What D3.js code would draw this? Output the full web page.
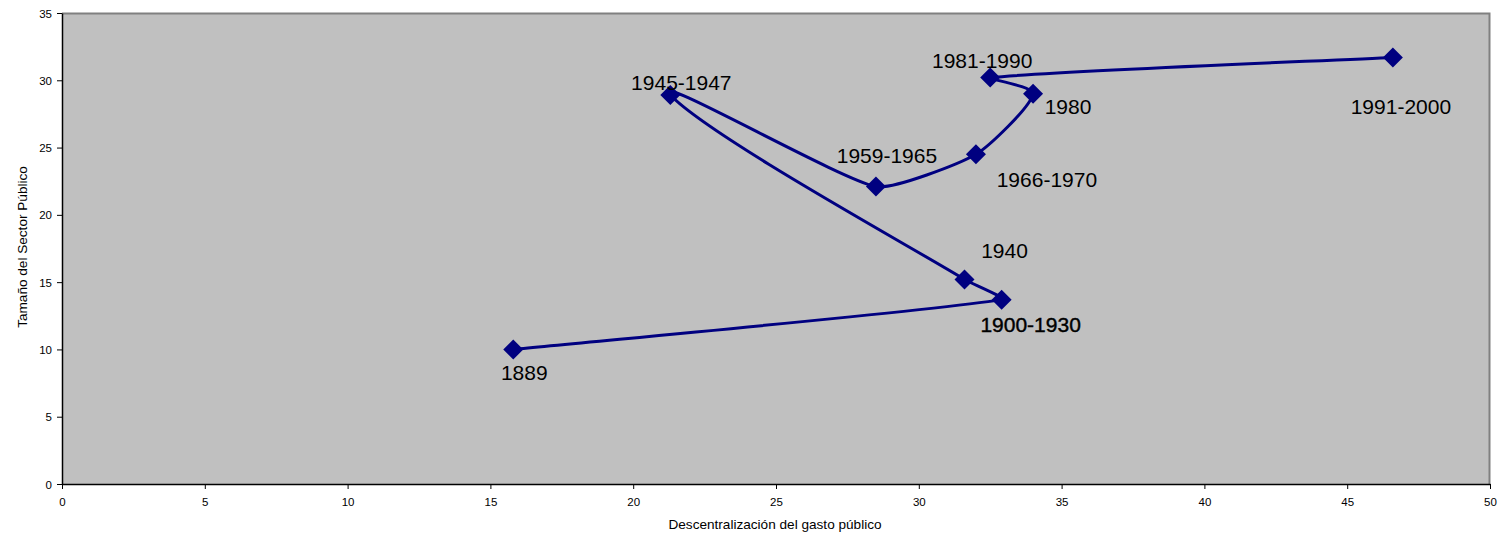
<!DOCTYPE html>
<html><head><meta charset="utf-8">
<script src="https://cdn.jsdelivr.net/npm/d3@7"></script>
<style>body{margin:0;background:#fff;} svg{display:block;font-family:Arial,"Liberation Sans",sans-serif;}</style>
</head><body>
<svg id="c" width="1501" height="539"></svg>
<script>
const periods = ["1889","1900-1930","1940","1945-1947","1959-1965","1966-1970","1980","1981-1990","1991-2000"];
const descentralizacion = [15.8, 32.9, 31.6, 21.3, 28.5, 32.0, 34.0, 32.5, 46.6];
const tamano = [10.0, 13.7, 15.2, 28.9, 22.1, 24.5, 29.0, 30.2, 31.7];
const xTicks = [0,5,10,15,20,25,30,35,40,45,50];
const yTicks = [0,5,10,15,20,25,30,35];
// label offsets (px) relative to point: [dx center, dy baseline]
const labelOffsets = [[11,31],[29,32],[40,-21],[11,-5],[11,-24],[71,33],[35,20],[-8,-10],[8,57]];

const svg = d3.select("#c");
const m = {l:62, t:13, r:1490, b:484};
const x = d3.scaleLinear().domain([0,50]).range([m.l, m.r]);
const y = d3.scaleLinear().domain([0,35]).range([m.b, m.t]);

svg.append("rect").attr("x",m.l).attr("y",m.t).attr("width",m.r-m.l).attr("height",m.b-m.t).attr("fill","#C0C0C0");
svg.append("path").attr("d",`M${m.l},${m.t+0.5}H${m.r-0.5}V${m.b}`).attr("fill","none").attr("stroke","#808080").attr("stroke-width",2);

const xAxis = svg.append("g").attr("transform",`translate(0,${m.b})`)
  .call(d3.axisBottom(x).tickValues(xTicks).tickSize(5).tickSizeOuter(0).tickFormat(d3.format("d")));
const yAxis = svg.append("g").attr("transform",`translate(${m.l},0)`)
  .call(d3.axisLeft(y).tickValues(yTicks).tickSize(5).tickSizeOuter(0).tickFormat(d3.format("d")));
[xAxis,yAxis].forEach(a=>{
  a.selectAll("path").attr("stroke","#000").attr("stroke-width",1.5);
  a.selectAll("line").attr("stroke","#000");
  a.selectAll("text").attr("font-family","Arial, 'Liberation Sans', sans-serif").attr("font-size",11.5).attr("fill","#000");
});
xAxis.selectAll("text").attr("dy","1.2em");
yAxis.selectAll("text").attr("dx","-2").attr("dy","0.35em");

svg.append("text").attr("x",775).attr("y",529).attr("text-anchor","middle").attr("font-size",13.6).text("Descentralización del gasto público");
svg.append("text").attr("transform",`translate(26.5,247) rotate(-90)`).attr("text-anchor","middle").attr("font-size",13.6).text("Tamaño del Sector Público");

const pts = periods.map((p,i)=>({p, x:descentralizacion[i], y:tamano[i], o:labelOffsets[i]}));

// Excel-like smoothing: Catmull-Rom tangent direction, magnitude scaled by each segment length
function smoothPath(data){
  const P = data.map(d=>[x(d.x), y(d.y)]);
  const n = P.length, k = 1/6;
  const tan = P.map((p,i)=>{
    const a = P[Math.max(0,i-1)], b = P[Math.min(n-1,i+1)];
    const dx = b[0]-a[0], dy = b[1]-a[1], L = Math.hypot(dx,dy)||1;
    return [dx/L, dy/L];
  });
  const path = d3.path();
  path.moveTo(P[0][0],P[0][1]);
  for(let i=0;i<n-1;i++){
    const a=P[i], b=P[i+1], L=Math.hypot(b[0]-a[0],b[1]-a[1]);
    const c1=[a[0]+tan[i][0]*L*k, a[1]+tan[i][1]*L*k];
    const c2=[b[0]-tan[i+1][0]*L*k, b[1]-tan[i+1][1]*L*k];
    path.bezierCurveTo(c1[0],c1[1],c2[0],c2[1],b[0],b[1]);
  }
  return path.toString();
}
svg.append("path").datum(pts).attr("d",smoothPath).attr("fill","none").attr("stroke","#000080").attr("stroke-width",3);

svg.selectAll(".mk").data(pts).enter().append("path")
  .attr("transform",d=>`translate(${x(d.x)},${y(d.y)})`)
  .attr("d","M0,-10L10,0L0,10L-10,0Z").attr("fill","#000080");

svg.selectAll(".lb").data(pts).enter().append("text")
  .attr("x",d=>x(d.x)+d.o[0]).attr("y",d=>y(d.y)+d.o[1])
  .attr("text-anchor","middle").attr("font-size",21).attr("fill","#000")
  .attr("stroke",d=>d.p==="1900-1930"?"#000":"none").attr("stroke-width",0.4)
  .text(d=>d.p);
</script>
</body></html>
